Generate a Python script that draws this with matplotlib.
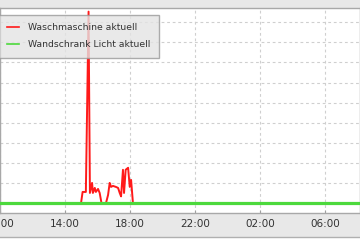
import matplotlib
matplotlib.use('Agg')
import matplotlib.pyplot as plt
import matplotlib.dates as mdates
from matplotlib.patches import Rectangle
from matplotlib.lines import Line2D
from datetime import datetime, timedelta

# Waschmaschine (W)
wasch_times = ['09:40', '14:59', '15:05', '15:17', '15:27', '15:32', '15:40', '15:43',
               '15:50', '15:54', '16:02', '16:08', '16:15', '16:31', '16:39', '16:45',
               '16:50', '16:57', '17:08', '17:16', '17:22', '17:27', '17:34', '17:38',
               '17:44', '17:53', '17:59', '18:04', '18:11', '08:30']
wasch_values = [0, 0, 57, 57, 952, 52, 102, 52,
                77, 57, 72, 52, 0, 0, 42, 102,
                82, 87, 82, 77, 52, 35, 167, 52,
                167, 177, 82, 117, 0, 0]

licht_times = ['09:40', '08:30']
licht_values = [0, 0]

day0 = datetime(2015, 3, 10)


def to_dt(times):
    """hh:mm strings -> datetimes, rolling over midnight."""
    out = []
    prev = None
    day = day0
    for t in times:
        d = datetime.strptime(t, '%H:%M').replace(year=day.year, month=day.month, day=day.day)
        if prev is not None and d < prev:
            day = day + timedelta(days=1)
            d = d + timedelta(days=1)
        out.append(d)
        prev = d
    return out


fig = plt.figure(figsize=(3.6, 2.4), dpi=100)
fig.patch.set_facecolor('#e8e8e8')

# white strip at the very bottom
fig.patches.append(Rectangle((0, 0), 1, 3 / 240, transform=fig.transFigure,
                             facecolor='white', edgecolor='none', zorder=0))
fig.lines.append(Line2D([0, 1], [3 / 240, 3 / 240], transform=fig.transFigure,
                        color='#b0b0b0', linewidth=1.0))

ax = fig.add_axes([0, 1 - 212.5 / 240, 1, (212.5 - 8) / 240])
ax.set_facecolor('white')
for s in ax.spines.values():
    s.set_color('#a8a8a8')
    s.set_linewidth(1.0)

ax.plot(to_dt(wasch_times), wasch_values, color='#ff1a1a', linewidth=1.4,
        label='Waschmaschine aktuell', zorder=3)
ax.plot(to_dt(licht_times), licht_values, color='#4cd93c', linewidth=2.3,
        label='Wandschrank Licht aktuell', zorder=4)

start = day0 + timedelta(hours=10)
ax.set_xlim(start, start + timedelta(hours=360 / 65 * 4))
ax.set_ylim(-45, 970)
ax.set_yticks(range(0, 1000, 100))
ax.tick_params(axis='y', length=0, labelleft=False)

ax.xaxis.set_major_locator(mdates.HourLocator(byhour=[2, 6, 10, 14, 18, 22]))
ax.xaxis.set_major_formatter(mdates.DateFormatter('%H:%M'))
ax.tick_params(axis='x', direction='in', length=2, color='#a0a0a0',
               labelsize=7.5, labelcolor='#333333', pad=5)

ax.grid(True, color='#cfcfcf', linestyle=(0, (2.5, 2.5)), linewidth=0.8)
ax.set_axisbelow(True)

leg = ax.legend(loc='upper left', bbox_to_anchor=(-0.003, 1 - 7 / 204.5),
                borderaxespad=0, fontsize=6.7, fancybox=False, framealpha=0.8,
                handlelength=1.3, handletextpad=0.9, labelspacing=0.85,
                borderpad=0.9)
leg.get_frame().set_facecolor('#e4e4e4')
leg.get_frame().set_edgecolor('#999999')
for line in leg.get_lines():
    line.set_linewidth(1.2)
for t in leg.get_texts():
    t.set_color('#333333')

fig.savefig('out.png', dpi=100, facecolor=fig.get_facecolor())
